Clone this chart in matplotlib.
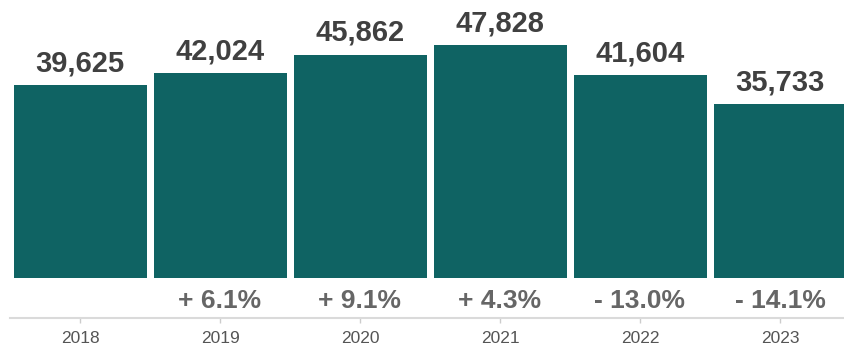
import matplotlib
matplotlib.use("Agg")
import matplotlib.pyplot as plt

plt.rcParams['font.family'] = ['Liberation Sans', 'DejaVu Sans']

# yearly totals
years = ['2018', '2019', '2020', '2021', '2022', '2023']
counts = [39625, 42024, 45862, 47828, 41604, 35733]

bar_color = '#0f6363'
value_color = '#404040'
change_color = '#666666'

fig = plt.figure(figsize=(8.44, 3.51), dpi=100)
# axes bottom sits on the bar baseline, labels hang below it
ax = fig.add_axes([0, 73 / 351, 1, 278 / 351])

x = list(range(len(years)))
ax.bar(x, counts, width=0.95, color=bar_color)

ax.set_xlim(-80 / 140, 764 / 140)
ax.set_ylim(0, 57064)

# value on top of each bar
for i, v in enumerate(counts):
    ax.annotate(f'{v:,}', xy=(i, v), xytext=(0, 10), textcoords='offset points',
                ha='center', va='baseline', fontsize=21, fontweight='bold',
                color=value_color)

# year-over-year change under each bar
for i in range(1, len(counts)):
    pct = (counts[i] - counts[i - 1]) / counts[i - 1] * 100
    sign = '+' if pct >= 0 else '-'
    ax.annotate(f'{sign} {abs(pct):.1f}%', xy=(i, 0), xytext=(0, -21.6),
                textcoords='offset points', ha='center', va='baseline',
                fontsize=19, fontweight='bold', color=change_color)

for side in ['top', 'right', 'left']:
    ax.spines[side].set_visible(False)
ax.spines['bottom'].set_position(('outward', 28.8))
ax.spines['bottom'].set_bounds(-0.5, 764 / 140)
ax.spines['bottom'].set_color('#dadada')
ax.spines['bottom'].set_linewidth(1.5)

ax.set_yticks([])
ax.set_xticks(x)
ax.set_xticklabels(years)
ax.tick_params(axis='x', length=3.6, width=1, color='#cccccc', pad=6,
               labelsize=12.5, labelcolor='#555555')

fig.savefig('out.png', dpi=100)
